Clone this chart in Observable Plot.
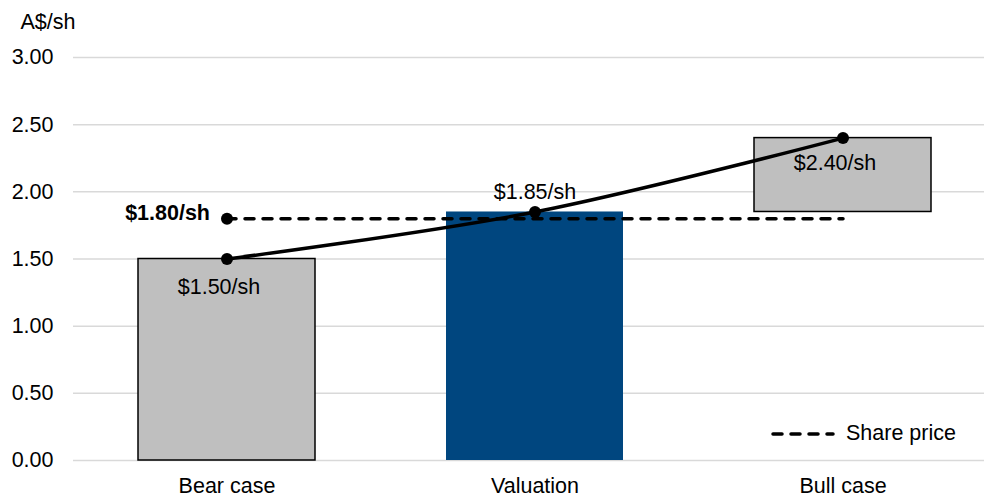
<!DOCTYPE html>
<html>
<head>
<meta charset="utf-8">
<script src="https://cdn.jsdelivr.net/npm/d3@7"></script>
<script src="https://cdn.jsdelivr.net/npm/@observablehq/plot@0.6"></script>
<style>
  html, body { margin: 0; padding: 0; background: #fff; }
  #wrap { position: relative; width: 984px; height: 497px; overflow: hidden;
          font-family: "Liberation Sans", Arial, sans-serif; font-size: 21.5px; color: #000; }
  #legend { position: absolute; left: 770px; top: 421px; display: flex; align-items: center; gap: 10px; }
</style>
</head>
<body>
<div id="wrap">
  <div id="chart"></div>
  <div id="legend">
    <svg width="66" height="24"><line x1="3" x2="63" y1="12" y2="12" stroke="#000" stroke-width="3.5" stroke-dasharray="9,9" stroke-linecap="round"/></svg>
    <span>Share price</span>
  </div>
</div>
<script>
// Valuation scenarios, A$ per share
const categories = ["Bear case", "Valuation", "Bull case"];
const barLow = [0, 0, 1.85];
const barHigh = [1.50, 1.85, 2.40];
const scenarioValues = [1.50, 1.85, 2.40];
const scenarioLabels = ["$1.50/sh", "$1.85/sh", "$2.40/sh"];
const sharePrice = [1.80, 1.80, 1.80];
const sharePriceLabel = "$1.80/sh";
const yTicks = [0, 0.5, 1.0, 1.5, 2.0, 2.5, 3.0];

const idx = d3.range(categories.length);
const grey = "#bfbfbf";
const blue = "#00467f";

const chart = Plot.plot({
  width: 984,
  height: 497,
  marginLeft: 73,
  marginRight: 0,
  marginTop: 57,
  marginBottom: 37,
  style: { fontFamily: "'Liberation Sans', Arial, sans-serif", fontSize: "21.5px", color: "#000", background: "#fff", overflow: "visible" },
  x: { domain: categories, range: [73, 997], paddingInner: 0.425, paddingOuter: 0.2125, label: null, tickSize: 0, tickPadding: 17 },
  y: { domain: [0, 3], ticks: yTicks, tickFormat: d3.format(".2f"), label: null, tickSize: 0, tickPadding: 20 },
  marks: [
    Plot.ruleY(yTicks, { stroke: "#d9d9d9", strokeWidth: 1.5 }),
    // scenario bars (bull case floats above the valuation)
    Plot.barY(idx.filter(i => categories[i] !== "Valuation"), {
      x: i => categories[i], y1: i => barLow[i], y2: i => barHigh[i],
      fill: grey, stroke: "#000", strokeWidth: 1.5
    }),
    Plot.barY(idx.filter(i => categories[i] === "Valuation"), {
      x: i => categories[i], y1: i => barLow[i], y2: i => barHigh[i], fill: blue
    }),
    // share price
    Plot.line(idx, {
      x: i => categories[i], y: i => sharePrice[i],
      stroke: "#000", strokeWidth: 3.5, strokeDasharray: "9,9", strokeLinecap: "round"
    }),
    Plot.dot([0], { x: i => categories[i], y: i => sharePrice[i], r: 6, fill: "#000" }),
    Plot.text([0], {
      x: i => categories[i], y: i => sharePrice[i], text: () => sharePriceLabel,
      textAnchor: "end", fontWeight: "bold", dx: -17, dy: -6
    }),
    // scenario line
    Plot.line(idx, {
      x: i => categories[i], y: i => scenarioValues[i],
      stroke: "#000", strokeWidth: 3.5, curve: "catmull-rom"
    }),
    Plot.dot(idx, { x: i => categories[i], y: i => scenarioValues[i], r: 6, fill: "#000" }),
    Plot.text([0], { x: i => categories[i], y: i => scenarioValues[i], text: i => scenarioLabels[i], dx: -8, dy: 28 }),
    Plot.text([1], { x: i => categories[i], y: i => scenarioValues[i], text: i => scenarioLabels[i], dy: -20 }),
    Plot.text([2], { x: i => categories[i], y: i => scenarioValues[i], text: i => scenarioLabels[i], dx: -8, dy: 25 }),
    // unit label
    Plot.text(["A$/sh"], { frameAnchor: "top-left", textAnchor: "start", lineAnchor: "bottom", dx: -53, dy: -29 })
  ]
});
document.getElementById("chart").appendChild(chart);
</script>
</body>
</html>
